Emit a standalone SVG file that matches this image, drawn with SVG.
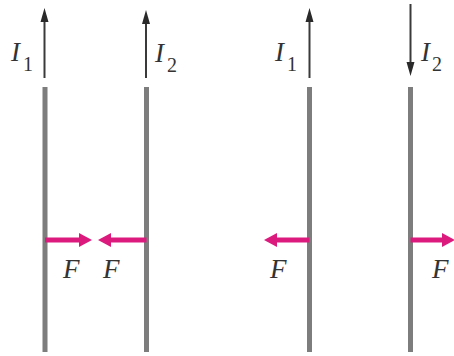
<svg xmlns="http://www.w3.org/2000/svg" width="454" height="356" viewBox="0 0 454 356">
<style>
.wire{stroke:#7d7d7d;stroke-width:5;fill:none}
.cur{stroke:#3a3a3a;stroke-width:2;fill:none}
.head{fill:#2a2a2a}
.force{stroke:#dc1a7e;stroke-width:5;fill:none}
.fhead{fill:#dc1a7e}
.lbl{font-family:"Liberation Serif",serif;font-style:italic;fill:#333}
.big{font-size:27px}
.sub{font-size:20px;font-style:normal}
</style>
<rect width="454" height="356" fill="#fff"/>
<g id="wire1">
<line class="wire" x1="45" y1="87" x2="45" y2="352"/>
<text class="lbl big" x="11" y="61">I</text><text class="lbl sub" x="23" y="71">1</text>
</g>
<g id="wire2">
<line class="wire" x1="146.5" y1="87" x2="146.5" y2="352"/>
<text class="lbl big" x="155" y="62">I</text><text class="lbl sub" x="167" y="72">2</text>
</g>
<g id="wire3">
<line class="wire" x1="309.5" y1="87" x2="309.5" y2="352"/>
<text class="lbl big" x="275" y="61">I</text><text class="lbl sub" x="287" y="71">1</text>
</g>
<g id="wire4">
<line class="wire" x1="410.5" y1="87" x2="410.5" y2="352"/>
<text class="lbl big" x="421" y="61">I</text><text class="lbl sub" x="432" y="71">2</text>
</g>
<g id="forces">
<text class="lbl big" x="63" y="278">F</text>
<text class="lbl big" x="103" y="278">F</text>
<text class="lbl big" x="270" y="278">F</text>
<text class="lbl big" x="432" y="278">F</text>
</g>
<g id="connectors">
<line class="cur" x1="44.5" y1="20" x2="44.5" y2="78"/>
<polygon class="head" points="44.5,8 40.5,22 48.5,22"/>
<line class="cur" x1="146" y1="22" x2="146" y2="78"/>
<polygon class="head" points="146,10 142,24 150,24"/>
<line class="cur" x1="309.5" y1="20" x2="309.5" y2="78"/>
<polygon class="head" points="309.5,8 305.5,22 313.5,22"/>
<line class="cur" x1="410.5" y1="4" x2="410.5" y2="64"/>
<polygon class="head" points="410.5,76 406.5,62 414.5,62"/>
<line class="force" x1="45" y1="240" x2="82" y2="240"/>
<polygon class="fhead" points="92,240 79,233 79,247"/>
<line class="force" x1="146.5" y1="240" x2="108" y2="240"/>
<polygon class="fhead" points="98,240 111,233 111,247"/>
<line class="force" x1="309.5" y1="240" x2="274" y2="240"/>
<polygon class="fhead" points="264,240 277,233 277,247"/>
<line class="force" x1="410.5" y1="240" x2="444" y2="240"/>
<polygon class="fhead" points="455,240 442,233 442,247"/>
</g>
</svg>
